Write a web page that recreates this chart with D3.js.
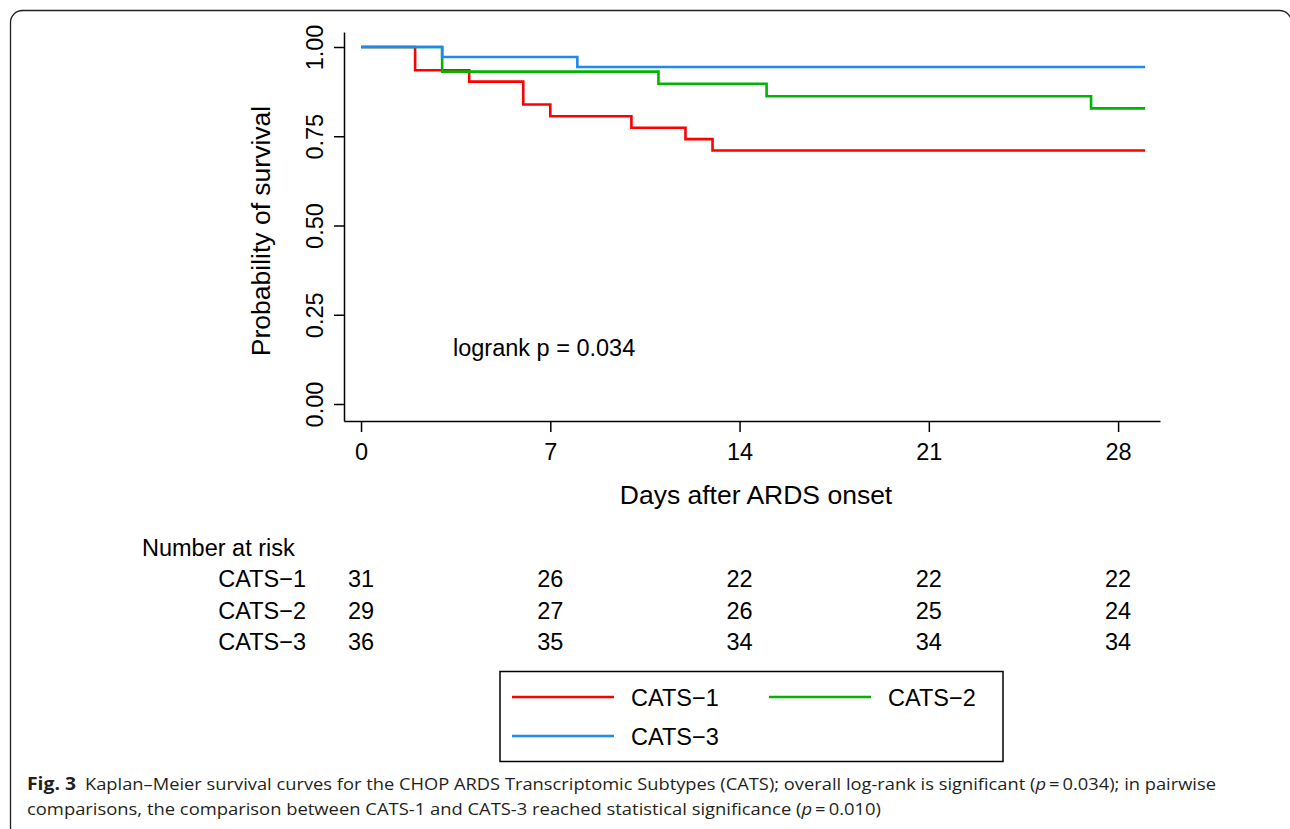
<!DOCTYPE html>
<html>
<head>
<meta charset="utf-8">
<script src="https://cdn.jsdelivr.net/npm/d3@7"></script>
<style>
  body { margin: 0; background: #fff; }
  text { font-family: "Liberation Sans", Arial, sans-serif; }
</style>
</head>
<body>
<div id="graph1"></div>
<script>
var w = 1290;
var h = 829;

// survival steps (time in days, probability)
var groups = ["CATS\u22121", "CATS\u22122", "CATS\u22123"];
var colors = ["#ff0000", "#00b400", "#1e88f5"];
var cats1Time = [0, 2, 4, 6, 7, 10, 12, 13, 29];
var cats1Surv = [1, 0.935, 0.903, 0.839, 0.806, 0.774, 0.742, 0.710, 0.710];
var cats2Time = [0, 3, 11, 15, 27, 29];
var cats2Surv = [1, 0.931, 0.897, 0.862, 0.828, 0.828];
var cats3Time = [0, 3, 8, 29];
var cats3Surv = [1, 0.972, 0.944, 0.944];

var xTicks = [0, 7, 14, 21, 28];
var yTicks = [0, 0.25, 0.5, 0.75, 1];
var yTickLabels = ["0.00", "0.25", "0.50", "0.75", "1.00"];

// number at risk at each x tick
var risk1 = [31, 26, 22, 22, 22];
var risk2 = [29, 27, 26, 25, 24];
var risk3 = [36, 35, 34, 34, 34];

var svg = d3.select("#graph1")
    .append("svg")
    .attr("width", w)
    .attr("height", h);

// frame round the figure
svg.append("rect")
    .attr("x", 10.5)
    .attr("y", 10.5)
    .attr("width", 1281)
    .attr("height", 828)
    .attr("rx", 12)
    .attr("fill", "none")
    .attr("stroke", "#231f20")
    .attr("stroke-width", 1.3);

var xScale = d3.scaleLinear()
    .domain([-0.63, 29.55])
    .range([344, 1160]);

var yScale = d3.scaleLinear()
    .domain([-0.0476, 1.042])
    .range([421, 32]);

//Define X axis
var xAxis = d3.axisBottom()
    .scale(xScale)
    .tickValues(xTicks)
    .tickSize(11)
    .tickSizeOuter(0);

//Define Y axis
var yAxis = d3.axisLeft()
    .scale(yScale)
    .tickValues(yTicks)
    .tickFormat(function (d, i) { return yTickLabels[i]; })
    .tickSize(10)
    .tickSizeOuter(0);

var gx = svg.append("g")
    .attr("transform", "translate(0,421)")
    .call(xAxis);
gx.selectAll("path, line").attr("stroke", "#000").attr("stroke-width", 1.5);
gx.selectAll("text")
    .attr("y", 39)
    .attr("dy", null)
    .attr("fill", "#000")
    .style("font-size", "23.5px")
    .style("font-family", "Liberation Sans, Arial, sans-serif");

var gy = svg.append("g")
    .attr("transform", "translate(344,0)")
    .call(yAxis);
gy.selectAll("path, line").attr("stroke", "#000").attr("stroke-width", 1.5);
gy.selectAll("text")
    .attr("x", null)
    .attr("dy", null)
    .attr("text-anchor", "middle")
    .attr("transform", "translate(-21,0) rotate(-90)")
    .attr("fill", "#000")
    .style("font-size", "23.5px")
    .style("font-family", "Liberation Sans, Arial, sans-serif");

// axis titles, centred on the plot region
svg.append("text")
    .attr("x", 756)
    .attr("y", 504)
    .attr("text-anchor", "middle")
    .attr("font-size", "26.5px")
    .text("Days after ARDS onset");

svg.append("text")
    .attr("transform", "translate(270," + 231 + ") rotate(-90)")
    .attr("text-anchor", "middle")
    .attr("font-size", "26.5px")
    .text("Probability of survival");

svg.append("text")
    .attr("x", xScale(3.4))
    .attr("y", yScale(0.15) + 6)
    .attr("font-size", "23.5px")
    .text("logrank p = 0.034");

// survival curves
var line = d3.line()
    .x(function (d) { return xScale(d[0]); })
    .y(function (d) { return yScale(d[1]); })
    .curve(d3.curveStepAfter);

var curves = [
    d3.zip(cats1Time, cats1Surv),
    d3.zip(cats2Time, cats2Surv),
    d3.zip(cats3Time, cats3Surv)
];

svg.selectAll(".km")
    .data(curves)
    .enter()
    .append("path")
    .attr("class", "km")
    .attr("d", line)
    .attr("fill", "none")
    .attr("stroke", function (d, i) { return colors[i]; })
    .attr("stroke-width", 2.6);

// number at risk table
svg.append("text")
    .attr("x", 142)
    .attr("y", 556)
    .attr("font-size", "23.5px")
    .text("Number at risk");

var riskRows = [risk1, risk2, risk3];
var rowY = [587, 618.5, 650];

riskRows.forEach(function (row, r) {
    svg.append("text")
        .attr("x", 306)
        .attr("y", rowY[r])
        .attr("text-anchor", "end")
        .attr("font-size", "23.5px")
        .text(groups[r]);
    svg.selectAll(".risk" + r)
        .data(row)
        .enter()
        .append("text")
        .attr("class", "risk" + r)
        .attr("x", function (d, i) { return xScale(xTicks[i]); })
        .attr("y", rowY[r])
        .attr("text-anchor", "middle")
        .attr("font-size", "23.5px")
        .text(function (d) { return d; });
});

// legend
svg.append("rect")
    .attr("x", 500)
    .attr("y", 671.5)
    .attr("width", 503)
    .attr("height", 90)
    .attr("fill", "none")
    .attr("stroke", "#000")
    .attr("stroke-width", 1.5);

var legX = [512, 769, 512];
var legY = [697, 697, 736];
groups.forEach(function (g, i) {
    svg.append("line")
        .attr("x1", legX[i])
        .attr("x2", legX[i] + 102)
        .attr("y1", legY[i])
        .attr("y2", legY[i])
        .attr("stroke", colors[i])
        .attr("stroke-width", 2.6);
    svg.append("text")
        .attr("x", legX[i] + 119)
        .attr("y", legY[i] + 8.5)
        .attr("font-size", "23.5px")
        .text(g);
});

// caption
var cap = svg.append("g")
    .attr("fill", "#231f20")
    .style("font-size", "17px");

cap.append("text")
    .attr("x", 27)
    .attr("y", 790)
    .attr("font-weight", "bold")
    .attr("textLength", 49)
    .attr("lengthAdjust", "spacingAndGlyphs")
    .style("font-family", "Open Sans, sans-serif")
    .text("Fig. 3");

var c1 = cap.append("text")
    .attr("x", 85)
    .attr("y", 790)
    .attr("textLength", 1131)
    .attr("lengthAdjust", "spacingAndGlyphs")
    .style("font-family", "Open Sans, sans-serif");
c1.append("tspan").text("Kaplan\u2013Meier survival curves for the CHOP ARDS Transcriptomic Subtypes (CATS); overall log-rank is significant (");
c1.append("tspan").attr("font-style", "italic").text("p");
c1.append("tspan").text("\u2009=\u20090.034); in pairwise");

var c2 = cap.append("text")
    .attr("x", 27)
    .attr("y", 815)
    .attr("textLength", 854)
    .attr("lengthAdjust", "spacingAndGlyphs")
    .style("font-family", "Open Sans, sans-serif");
c2.append("tspan").text("comparisons, the comparison between CATS-1 and CATS-3 reached statistical significance (");
c2.append("tspan").attr("font-style", "italic").text("p");
c2.append("tspan").text("\u2009=\u20090.010)");
</script>
</body>
</html>
